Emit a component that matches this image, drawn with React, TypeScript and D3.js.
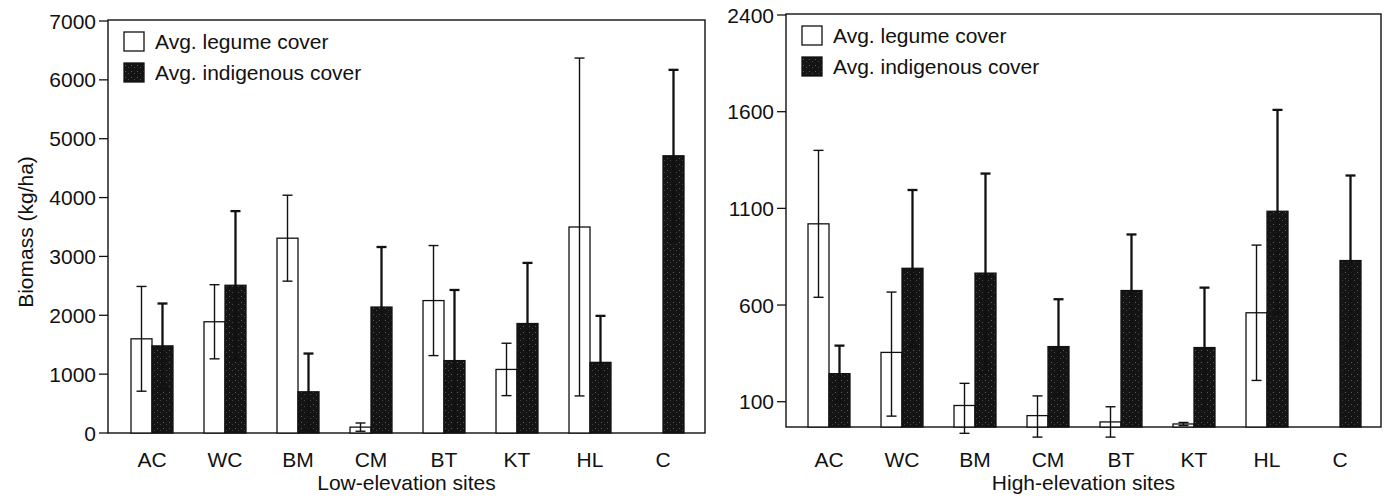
import React from 'react';
import * as d3 from 'd3';

// sites on both panels
const sites = ['AC', 'WC', 'BM', 'CM', 'BT', 'KT', 'HL', 'C'];
const seriesKeys = ['legume', 'indigenous'];
const legendLabels = ['Avg. legume cover', 'Avg. indigenous cover'];

// low elevation (kg/ha), mean and error
const lowLegume = [1600, 1890, 3310, 100, 2250, 1080, 3500, 0];
const lowLegumeErr = [890, 630, 730, 70, 935, 445, 2870, 0];
const lowIndig = [1480, 2510, 700, 2140, 1230, 1860, 1200, 4710];
const lowIndigErr = [720, 1260, 650, 1020, 1200, 1030, 790, 1460];

// high elevation (kg/ha)
const highLegume = [1020, 355, 85, 45, 20, 12, 560, 0];
const highLegumeErr = [380, 312, 110, 85, 60, 6, 350, 0];
const highIndig = [245, 790, 765, 385, 675, 380, 1085, 830];
const highIndigErr = [145, 405, 515, 245, 290, 310, 530, 440];

const lowTicks = [0, 1000, 2000, 3000, 4000, 5000, 6000, 7000];
const highTicks = [100, 600, 1100, 1600, 2400];

const FONT = '"Liberation Sans", Arial, Helvetica, sans-serif';

interface PanelProps {
  legume: number[];
  legumeErr: number[];
  indig: number[];
  indigErr: number[];
  y: d3.ScaleLinear<number, number>;
  ticks: number[];
  left: number;
  right: number;
  top: number;
  bottom: number;
  bandStart: number;
  bandEnd: number;
  title: string;
  yLabel?: string;
}

const Panel: React.FC<PanelProps> = (p) => {
  const x = d3.scaleBand<string>().domain(sites).range([p.bandStart, p.bandEnd])
    .paddingInner(0.425).paddingOuter(0.2125);
  const sub = d3.scaleBand<string>().domain(seriesKeys).range([0, x.bandwidth()]);
  const cap = 5;

  const bars = sites.map((s, i) => {
    const rows = [
      { key: 'legume', v: p.legume[i], e: p.legumeErr[i] },
      { key: 'indigenous', v: p.indig[i], e: p.indigErr[i] },
    ];
    return rows.map((r) => {
      if (r.v <= 0) return null;
      const bx = (x(s) ?? 0) + (sub(r.key) ?? 0);
      const w = sub.bandwidth();
      const cx = bx + w / 2;
      const y0 = p.y(0);
      const yv = p.y(r.v);
      const sw = r.key === 'legume' ? 1.4 : 2.3;
      return (
        <g key={s + r.key}>
          <rect x={bx} y={yv} width={w} height={y0 - yv}
            fill={r.key === 'legume' ? '#fff' : 'url(#stipple)'}
            stroke="#111" strokeWidth={1.3} />
          {r.e > 0 && (
            <g stroke="#111" strokeWidth={sw}>
              <line x1={cx} x2={cx} y1={p.y(r.v - r.e)} y2={p.y(r.v + r.e)} />
              <line x1={cx - cap} x2={cx + cap} y1={p.y(r.v + r.e)} y2={p.y(r.v + r.e)} />
              <line x1={cx - cap} x2={cx + cap} y1={p.y(r.v - r.e)} y2={p.y(r.v - r.e)} />
            </g>
          )}
        </g>
      );
    });
  });

  return (
    <g fontFamily={FONT} fill="#111">
      <rect x={p.left} y={p.top} width={p.right - p.left} height={p.bottom - p.top}
        fill="none" stroke="#111" strokeWidth={1.4} />
      {bars}
      {p.ticks.map((t) => (
        <g key={t}>
          <line x1={p.left - 9} x2={p.left} y1={p.y(t)} y2={p.y(t)} stroke="#111" strokeWidth={1.3} />
          <text x={p.left - 12} y={p.y(t)} dy="0.36em" textAnchor="end" fontSize={21}>{t}</text>
        </g>
      ))}
      {sites.map((s) => (
        <text key={s} x={(x(s) ?? 0) + x.bandwidth() / 2} y={467} textAnchor="middle" fontSize={21}>{s}</text>
      ))}
      <text x={(p.left + p.right) / 2} y={490} textAnchor="middle" fontSize={21}>{p.title}</text>
      {p.yLabel && (
        <text transform={`translate(33,${232}) rotate(-90)`} textAnchor="middle" fontSize={21}>{p.yLabel}</text>
      )}
      {legendLabels.map((l, i) => (
        <g key={l} transform={`translate(${p.left + 16},${p.top + 12 + i * 31})`}>
          <rect x={0} y={0} width={20} height={19} fill={i === 0 ? '#fff' : 'url(#stipple)'}
            stroke="#111" strokeWidth={1.3} />
          <text x={31} y={9.5} dy="0.36em" fontSize={21}>{l}</text>
        </g>
      ))}
    </g>
  );
};

const App: React.FC = () => {
  const yLow = d3.scaleLinear().domain([0, 7000]).range([433, 21]);
  // the printed axis on the right panel is not evenly scaled: ticks are equally spaced
  const yHigh = d3.scaleLinear().domain([0, 100, 1600, 2400]).range([427, 401.7, 111.7, 15]);

  return (
    <svg width={1387} height={502} style={{ position: 'absolute', left: 0, top: 0, background: '#fff' }}>
      <defs>
        <pattern id="stipple" width={6} height={6} patternUnits="userSpaceOnUse">
          <rect width={6} height={6} fill="#141414" />
          <rect x={1} y={2} width={1} height={1} fill="#5a5a5a" />
          <rect x={4} y={4} width={1} height={1} fill="#454545" />
        </pattern>
      </defs>
      <Panel legume={lowLegume} legumeErr={lowLegumeErr} indig={lowIndig} indigErr={lowIndigErr}
        y={yLow} ticks={lowTicks} left={108} right={705} top={20} bottom={433}
        bandStart={115.5} bandEnd={699.5} title="Low-elevation sites" yLabel="Biomass (kg/ha)" />
      <Panel legume={highLegume} legumeErr={highLegumeErr} indig={highIndig} indigErr={highIndigErr}
        y={yHigh} ticks={highTicks} left={786} right={1381} top={14} bottom={427}
        bandStart={792.5} bandEnd={1376.5} title="High-elevation sites" />
    </svg>
  );
};

export default App;
